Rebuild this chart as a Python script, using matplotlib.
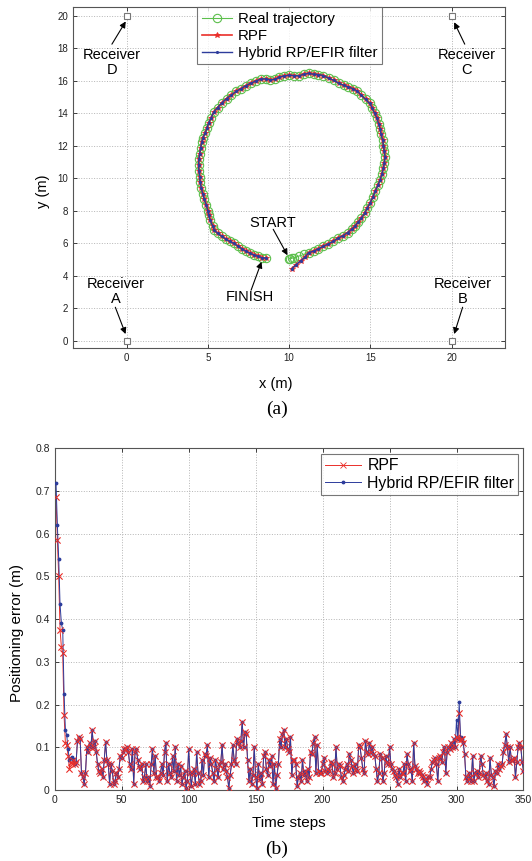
import matplotlib
matplotlib.use('Agg')
import matplotlib.pyplot as plt
from matplotlib.ticker import FuncFormatter

plt.rcParams['font.family'] = ['Liberation Sans', 'DejaVu Sans']

# ---- (a) trajectory data (metres) ----
real_x = [10.0, 10.15, 10.05, 10.3, 10.6, 10.9, 11.2, 11.5, 11.8, 12.1, 12.4, 12.7, 13.0, 13.3, 13.6, 13.85, 14.05,
          14.25, 14.45, 14.65, 14.8, 15.0, 15.15, 15.3, 15.45, 15.6, 15.7, 15.8, 15.85, 15.9,
          15.85, 15.8, 15.75, 15.65, 15.6, 15.5, 15.4, 15.25, 15.1, 14.95, 14.7, 14.45,
          14.2, 13.95, 13.65, 13.35, 13.05, 12.75, 12.45, 12.1, 11.8, 11.5, 11.2,
          10.9, 10.6, 10.3, 10.0, 9.7, 9.4, 9.1, 8.85, 8.55, 8.25, 7.95, 7.65, 7.35, 7.05,
          6.75, 6.45, 6.15, 5.85, 5.6, 5.35, 5.2, 5.05, 4.95, 4.85, 4.7, 4.62,
          4.55, 4.5, 4.45, 4.43, 4.45, 4.5, 4.52, 4.6, 4.68, 4.78, 4.9, 5.0, 5.05, 5.15, 5.3, 5.4,
          5.6, 5.85, 6.1, 6.35, 6.6, 6.85, 7.1, 7.35, 7.6, 7.85, 8.1, 8.35, 8.55]
real_y = [5.02, 5.08, 5.05, 5.1, 5.2, 5.3, 5.42, 5.5, 5.65, 5.8, 5.95, 6.1, 6.3, 6.45, 6.65, 6.85, 7.05,
          7.3, 7.55, 7.85, 8.15, 8.5, 8.85, 9.2, 9.55, 9.9, 10.25, 10.6, 10.95, 11.3,
          11.65, 12.0, 12.35, 12.7, 13.0, 13.35, 13.7, 14.0, 14.35, 14.6, 14.85, 15.1,
          15.35, 15.5, 15.62, 15.72, 15.85, 16.02, 16.15, 16.32, 16.38, 16.4, 16.45,
          16.4, 16.3, 16.32, 16.33, 16.3, 16.22, 16.08, 16.05, 16.12, 16.1, 15.98, 15.85, 15.7, 15.52,
          15.35, 15.12, 14.9, 14.62, 14.35, 14.05, 13.7, 13.4, 13.1, 12.8, 12.5, 12.2,
          11.85, 11.5, 11.15, 10.8, 10.45, 10.1, 9.75, 9.4, 9.05, 8.7, 8.35, 8.0, 7.7, 7.4, 7.05, 6.8,
          6.6, 6.42, 6.25, 6.1, 5.98, 5.82, 5.65, 5.5, 5.38, 5.27, 5.18, 5.1, 5.08]
# filter estimates start off the true track, then follow it
est_head_x = [10.15, 10.4, 10.7, 11.0]
est_head_y = [4.4, 4.65, 4.9, 5.15]
est_x = est_head_x + real_x[6:]
est_y = est_head_y + real_y[6:]

rx_x = [0, 20, 20, 0]
rx_y = [0, 0, 20, 20]

# ---- (b) positioning error per time step ----
rpf_err = [0.685, 0.585, 0.50, 0.375, 0.335, 0.32, 0.175, 0.11, 0.105, 0.08,
           0.05, 0.065, 0.06, 0.07, 0.06, 0.065, 0.115, 0.125, 0.12, 0.04,
           0.03, 0.015, 0.04, 0.10, 0.09, 0.11, 0.10, 0.14, 0.10, 0.115,
           0.09, 0.06, 0.045, 0.04, 0.05, 0.03, 0.07, 0.112, 0.07, 0.06,
           0.015, 0.06, 0.045, 0.015, 0.02, 0.04, 0.03, 0.05, 0.08, 0.075,
           0.09, 0.095, 0.095, 0.10, 0.09, 0.06, 0.05, 0.095, 0.015, 0.09,
           0.095, 0.07, 0.055, 0.05, 0.06, 0.02, 0.03, 0.06, 0.02, 0.03,
           0.01, 0.06, 0.095, 0.04, 0.08, 0.03, 0.03, 0.02, 0.04, 0.06,
           0.035, 0.09, 0.11, 0.02, 0.06, 0.04, 0.03, 0.08, 0.045, 0.10,
           0.02, 0.06, 0.035, 0.055, 0.015, 0.03, 0.045, 0.005, 0.02, 0.095,
           0.04, 0.01, 0.04, 0.05, 0.015, 0.09, 0.04, 0.015, 0.02, 0.07,
           0.035, 0.085, 0.08, 0.105, 0.03, 0.075, 0.06, 0.04, 0.02, 0.07,
           0.05, 0.03, 0.06, 0.065, 0.105, 0.05, 0.06, 0.045, 0.03, 0.005,
           0.035, 0.06, 0.105, 0.07, 0.06, 0.12, 0.11, 0.10, 0.115, 0.16,
           0.10, 0.135, 0.13, 0.07, 0.02, 0.05, 0.015, 0.035, 0.10, 0.03,
           0.005, 0.06, 0.025, 0.04, 0.015, 0.08, 0.09, 0.05, 0.035, 0.07,
           0.055, 0.08, 0.015, 0.06, 0.005, 0.035, 0.06, 0.12, 0.10, 0.13,
           0.14, 0.10, 0.12, 0.095, 0.09, 0.125, 0.035, 0.07, 0.07, 0.06,
           0.01, 0.03, 0.04, 0.02, 0.07, 0.035, 0.045, 0.02, 0.05, 0.03,
           0.09, 0.085, 0.11, 0.125, 0.04, 0.105, 0.045, 0.04, 0.04, 0.06,
           0.075, 0.045, 0.04, 0.05, 0.045, 0.065, 0.06, 0.03, 0.04, 0.10,
           0.05, 0.06, 0.055, 0.03, 0.02, 0.035, 0.05, 0.06, 0.045, 0.085,
           0.07, 0.055, 0.04, 0.06, 0.05, 0.045, 0.105, 0.10, 0.075, 0.05,
           0.04, 0.115, 0.09, 0.085, 0.11, 0.09, 0.10, 0.085, 0.08, 0.05,
           0.02, 0.04, 0.085, 0.075, 0.02, 0.04, 0.08, 0.065, 0.06, 0.10,
           0.06, 0.05, 0.045, 0.035, 0.03, 0.015, 0.05, 0.03, 0.04, 0.04,
           0.06, 0.02, 0.085, 0.06, 0.045, 0.05, 0.02, 0.11, 0.055, 0.05,
           0.04, 0.045, 0.04, 0.035, 0.03, 0.02, 0.025, 0.015, 0.03, 0.03,
           0.05, 0.065, 0.07, 0.075, 0.06, 0.02, 0.075, 0.08, 0.065, 0.09,
           0.10, 0.04, 0.09, 0.10, 0.095, 0.11, 0.10, 0.12, 0.10, 0.125,
           0.12, 0.18, 0.12, 0.12, 0.11, 0.085, 0.03, 0.02, 0.04, 0.03,
           0.02, 0.08, 0.02, 0.04, 0.045, 0.03, 0.04, 0.08, 0.06, 0.035,
           0.03, 0.04, 0.02, 0.015, 0.075, 0.035, 0.03, 0.01, 0.045, 0.04,
           0.06, 0.05, 0.055, 0.06, 0.09, 0.105, 0.13, 0.10, 0.065, 0.10,
           0.07, 0.07, 0.075, 0.03, 0.065, 0.10, 0.11, 0.10, 0.065, 0.045]
# hybrid filter differs visibly only at the start and around the spike near step 300
hyb_start = [0.718, 0.62, 0.54, 0.435, 0.39, 0.375, 0.225, 0.14, 0.128, 0.095, 0.07, 0.075, 0.078, 0.072]
hyb_spike = [0.10, 0.12, 0.10, 0.165, 0.12, 0.205, 0.125, 0.12, 0.11, 0.085]
hyb_err = hyb_start + rpf_err[14:296] + hyb_spike + rpf_err[306:]
steps = list(range(1, len(rpf_err) + 1))

GREEN = '#5cbf4c'
RED = '#ea2f2a'
BLUE = '#2d3c9c'
GRID = dict(color='#b5b5b5', linestyle=':', linewidth=0.7)


def style_axes(ax, size):
    ax.grid(True, **GRID)
    ax.tick_params(direction='in', length=3, width=0.6, labelsize=size,
                   top=True, right=True, colors='#222222')
    for s in ax.spines.values():
        s.set_color('#555555')
        s.set_linewidth(0.8)


fig = plt.figure(figsize=(5.32, 8.61), dpi=100)

# ---------------- (a) ----------------
ax1 = fig.add_axes([0.137, 0.596, 0.813, 0.3955])
ax1.plot(real_x, real_y, color=GREEN, lw=0.8, marker='o', ms=6, mfc='none', mew=0.8,
         label='Real trajectory')
ax1.plot(est_x, est_y, color=RED, lw=1.2, marker='*', ms=4, mew=0.6, label='RPF')
ax1.plot(est_x, est_y, color=BLUE, lw=1.0, marker='.', ms=2.5, label='Hybrid RP/EFIR filter')
ax1.plot(rx_x, rx_y, linestyle='none', marker='s', ms=4, mfc='white', mec='#777777', mew=0.8)

ax1.set_xlim(-3.3, 23.3)
ax1.set_ylim(-0.45, 20.52)
ax1.set_xticks([0, 5, 10, 15, 20])
ax1.set_yticks(range(0, 21, 2))
style_axes(ax1, 7)
ax1.set_xlabel('x (m)', fontsize=10.5)
ax1.set_ylabel('y (m)', fontsize=10.5)
ax1.xaxis.set_label_coords(0.47, -0.085)
ax1.yaxis.set_label_coords(-0.052, 0.46)

leg1 = ax1.legend(loc='upper left', bbox_to_anchor=(0.287, 1.0), fontsize=10.8, frameon=True,
                  fancybox=False, borderaxespad=0.0, handlelength=2.0, borderpad=0.3,
                  labelspacing=0.2, handletextpad=0.4)
leg1.get_frame().set_edgecolor('#555555')
leg1.get_frame().set_linewidth(0.8)

arrow = dict(arrowstyle='-|>', color='black', lw=0.8, mutation_scale=9, shrinkA=0, shrinkB=0)
labels = [('Receiver\nD', (-0.9, 17.1), (-0.9, 18.25), (-0.05, 19.65)),
          ('Receiver\nC', (20.9, 17.1), (20.8, 18.25), (20.15, 19.6)),
          ('Receiver\nA', (-0.66, 3.0), (-0.69, 2.05), (-0.06, 0.4)),
          ('Receiver\nB', (20.7, 3.0), (20.67, 2.05), (20.15, 0.4)),
          ('START', (9.02, 7.26), (9.02, 6.85), (9.9, 5.25)),
          ('FINISH', (7.6, 2.67), (7.66, 3.1), (8.3, 4.85))]
for txt, pos, tail, head in labels:
    ax1.text(pos[0], pos[1], txt, ha='center', va='center', fontsize=10.5, linespacing=1.1)
    ax1.annotate('', xy=head, xytext=tail, arrowprops=arrow)

fig.text(0.52, 0.5246, '(a)', ha='center', va='center', fontsize=14, family='Liberation Serif')

# ---------------- (b) ----------------
ax2 = fig.add_axes([0.1028, 0.0825, 0.8812, 0.3968])
ax2.plot(steps, rpf_err, color=RED, lw=0.7, marker='x', ms=4.5, mew=0.6, label='RPF', zorder=2)
ax2.plot(steps, hyb_err, color=BLUE, lw=0.7, marker='.', ms=3.5, label='Hybrid RP/EFIR filter', zorder=3)
ax2.plot(steps, rpf_err, color=RED, linestyle='none', marker='x', ms=4.5, mew=0.6, zorder=4)
ax2.set_xlim(0, 350)
ax2.set_ylim(0, 0.8)
ax2.set_xticks(range(0, 351, 50))
ax2.set_yticks([i / 10 for i in range(9)])
ax2.yaxis.set_major_formatter(FuncFormatter(lambda v, p: '%g' % round(v, 2)))
style_axes(ax2, 7.5)
ax2.set_xlabel('Time steps', fontsize=11)
ax2.set_ylabel('Positioning error (m)', fontsize=11)
ax2.xaxis.set_label_coords(0.5, -0.075)
ax2.yaxis.set_label_coords(-0.065, 0.46)

leg2 = ax2.legend(loc='upper right', bbox_to_anchor=(0.989, 0.982), fontsize=11.4, frameon=True,
                  fancybox=False, borderaxespad=0.0, handlelength=2.3, borderpad=0.25,
                  labelspacing=0.15, handletextpad=0.4)
leg2.get_frame().set_edgecolor('#555555')
leg2.get_frame().set_linewidth(0.8)

fig.text(0.52, 0.0136, '(b)', ha='center', va='center', fontsize=14, family='Liberation Serif')

fig.savefig('out.png', dpi=100)
